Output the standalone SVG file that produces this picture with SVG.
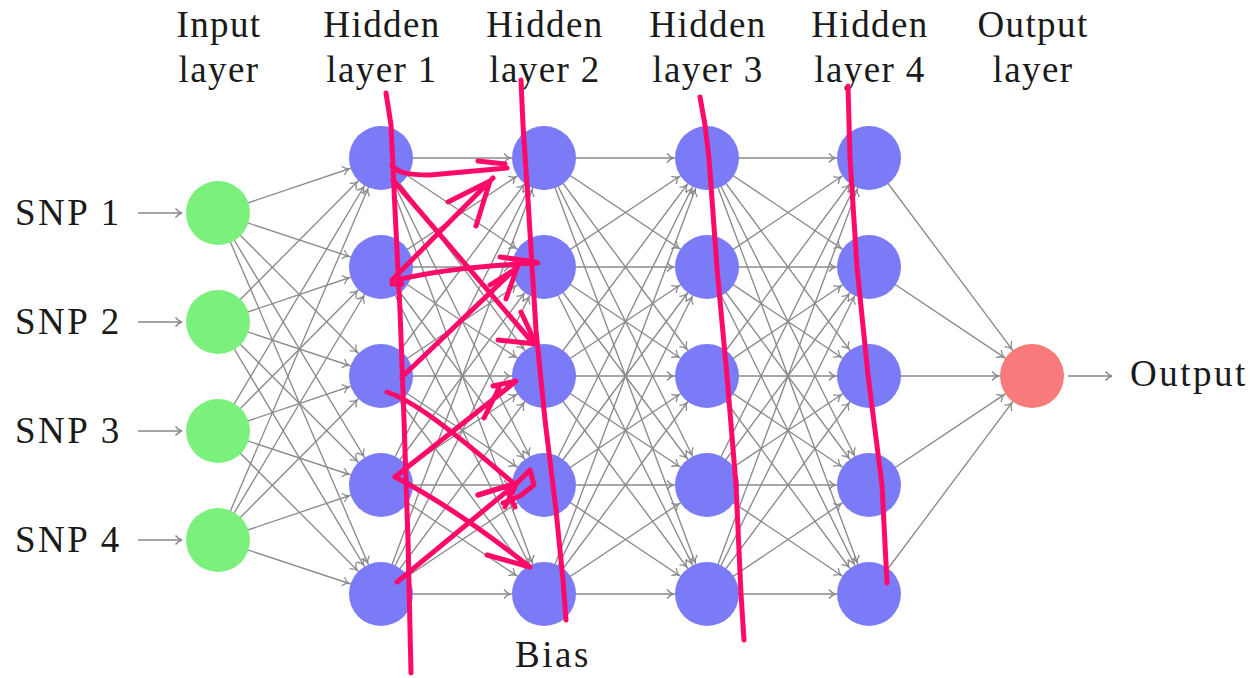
<svg xmlns="http://www.w3.org/2000/svg" width="1258" height="678" viewBox="0 0 1258 678">
<style>
.t{font-family:"Liberation Serif","Times New Roman",serif;font-size:37px;fill:#1a1a1a}
.hd{letter-spacing:1.4px}
.lb{letter-spacing:2.5px}
.c{text-anchor:middle}
.e{stroke:#8a8a8a;stroke-width:1.35;fill:none;marker-end:url(#ah)}
.s{stroke:#8a868a;stroke-width:1.4;fill:none;marker-end:url(#ah0)}
.g{fill:#7cf07c}
.b{fill:#7b7bf7}
.r{fill:#f87a7a}
.p{stroke:#ff0a68;stroke-width:5;fill:none;stroke-linecap:round;stroke-linejoin:round}
</style>
<defs>
<marker id="ah" markerUnits="userSpaceOnUse" orient="auto" overflow="visible" markerWidth="1" markerHeight="1" refX="0" refY="0">
<path d="M-40,-4.5 C-38,-2 -36,-0.5 -33.5,0 C-36,0.5 -38,2 -40,4.5" stroke="#8a8a8a" stroke-width="1.3" fill="none"/>
</marker>
<marker id="ah0" markerUnits="userSpaceOnUse" orient="auto" overflow="visible" markerWidth="1" markerHeight="1" refX="0" refY="0">
<path d="M-6.5,-4.5 C-4.5,-2 -2.5,-0.5 0,0 C-2.5,0.5 -4.5,2 -6.5,4.5" stroke="#8a868a" stroke-width="1.4" fill="none"/>
</marker>
</defs>
<rect width="1258" height="678" fill="#ffffff"/>
<g id="headers" class="t c hd">
<text x="219" y="37">Input</text><text x="219" y="82">layer</text>
<text x="382" y="37">Hidden</text><text x="382" y="82">layer 1</text>
<text x="545" y="37">Hidden</text><text x="545" y="82">layer 2</text>
<text x="708" y="37">Hidden</text><text x="708" y="82">layer 3</text>
<text x="870" y="37">Hidden</text><text x="870" y="82">layer 4</text>
<text x="1033" y="37">Output</text><text x="1033" y="82">layer</text>
</g>
<g id="connectors">
<line class="s" x1="138" y1="213" x2="182" y2="213"/>
<line class="s" x1="138" y1="322" x2="182" y2="322"/>
<line class="s" x1="138" y1="431" x2="182" y2="431"/>
<line class="s" x1="138" y1="540" x2="182" y2="540"/>
<line class="s" x1="1068" y1="376" x2="1112" y2="376"/>
<line class="e" x1="218" y1="213" x2="381" y2="158"/><line class="e" x1="218" y1="213" x2="381" y2="267"/><line class="e" x1="218" y1="213" x2="381" y2="376"/><line class="e" x1="218" y1="213" x2="381" y2="485"/><line class="e" x1="218" y1="213" x2="381" y2="594"/>
<line class="e" x1="218" y1="322" x2="381" y2="158"/><line class="e" x1="218" y1="322" x2="381" y2="267"/><line class="e" x1="218" y1="322" x2="381" y2="376"/><line class="e" x1="218" y1="322" x2="381" y2="485"/><line class="e" x1="218" y1="322" x2="381" y2="594"/>
<line class="e" x1="218" y1="431" x2="381" y2="158"/><line class="e" x1="218" y1="431" x2="381" y2="267"/><line class="e" x1="218" y1="431" x2="381" y2="376"/><line class="e" x1="218" y1="431" x2="381" y2="485"/><line class="e" x1="218" y1="431" x2="381" y2="594"/>
<line class="e" x1="218" y1="540" x2="381" y2="158"/><line class="e" x1="218" y1="540" x2="381" y2="267"/><line class="e" x1="218" y1="540" x2="381" y2="376"/><line class="e" x1="218" y1="540" x2="381" y2="485"/><line class="e" x1="218" y1="540" x2="381" y2="594"/>
<line class="e" x1="381" y1="158" x2="544" y2="158"/><line class="e" x1="381" y1="158" x2="544" y2="267"/><line class="e" x1="381" y1="158" x2="544" y2="376"/><line class="e" x1="381" y1="158" x2="544" y2="485"/><line class="e" x1="381" y1="158" x2="544" y2="594"/>
<line class="e" x1="381" y1="267" x2="544" y2="158"/><line class="e" x1="381" y1="267" x2="544" y2="267"/><line class="e" x1="381" y1="267" x2="544" y2="376"/><line class="e" x1="381" y1="267" x2="544" y2="485"/><line class="e" x1="381" y1="267" x2="544" y2="594"/>
<line class="e" x1="381" y1="376" x2="544" y2="158"/><line class="e" x1="381" y1="376" x2="544" y2="267"/><line class="e" x1="381" y1="376" x2="544" y2="376"/><line class="e" x1="381" y1="376" x2="544" y2="485"/><line class="e" x1="381" y1="376" x2="544" y2="594"/>
<line class="e" x1="381" y1="485" x2="544" y2="158"/><line class="e" x1="381" y1="485" x2="544" y2="267"/><line class="e" x1="381" y1="485" x2="544" y2="376"/><line class="e" x1="381" y1="485" x2="544" y2="485"/><line class="e" x1="381" y1="485" x2="544" y2="594"/>
<line class="e" x1="381" y1="594" x2="544" y2="158"/><line class="e" x1="381" y1="594" x2="544" y2="267"/><line class="e" x1="381" y1="594" x2="544" y2="376"/><line class="e" x1="381" y1="594" x2="544" y2="485"/><line class="e" x1="381" y1="594" x2="544" y2="594"/>
<line class="e" x1="544" y1="158" x2="707" y2="158"/><line class="e" x1="544" y1="158" x2="707" y2="267"/><line class="e" x1="544" y1="158" x2="707" y2="376"/><line class="e" x1="544" y1="158" x2="707" y2="485"/><line class="e" x1="544" y1="158" x2="707" y2="594"/>
<line class="e" x1="544" y1="267" x2="707" y2="158"/><line class="e" x1="544" y1="267" x2="707" y2="267"/><line class="e" x1="544" y1="267" x2="707" y2="376"/><line class="e" x1="544" y1="267" x2="707" y2="485"/><line class="e" x1="544" y1="267" x2="707" y2="594"/>
<line class="e" x1="544" y1="376" x2="707" y2="158"/><line class="e" x1="544" y1="376" x2="707" y2="267"/><line class="e" x1="544" y1="376" x2="707" y2="376"/><line class="e" x1="544" y1="376" x2="707" y2="485"/><line class="e" x1="544" y1="376" x2="707" y2="594"/>
<line class="e" x1="544" y1="485" x2="707" y2="158"/><line class="e" x1="544" y1="485" x2="707" y2="267"/><line class="e" x1="544" y1="485" x2="707" y2="376"/><line class="e" x1="544" y1="485" x2="707" y2="485"/><line class="e" x1="544" y1="485" x2="707" y2="594"/>
<line class="e" x1="544" y1="594" x2="707" y2="158"/><line class="e" x1="544" y1="594" x2="707" y2="267"/><line class="e" x1="544" y1="594" x2="707" y2="376"/><line class="e" x1="544" y1="594" x2="707" y2="485"/><line class="e" x1="544" y1="594" x2="707" y2="594"/>
<line class="e" x1="707" y1="158" x2="869" y2="158"/><line class="e" x1="707" y1="158" x2="869" y2="267"/><line class="e" x1="707" y1="158" x2="869" y2="376"/><line class="e" x1="707" y1="158" x2="869" y2="485"/><line class="e" x1="707" y1="158" x2="869" y2="594"/>
<line class="e" x1="707" y1="267" x2="869" y2="158"/><line class="e" x1="707" y1="267" x2="869" y2="267"/><line class="e" x1="707" y1="267" x2="869" y2="376"/><line class="e" x1="707" y1="267" x2="869" y2="485"/><line class="e" x1="707" y1="267" x2="869" y2="594"/>
<line class="e" x1="707" y1="376" x2="869" y2="158"/><line class="e" x1="707" y1="376" x2="869" y2="267"/><line class="e" x1="707" y1="376" x2="869" y2="376"/><line class="e" x1="707" y1="376" x2="869" y2="485"/><line class="e" x1="707" y1="376" x2="869" y2="594"/>
<line class="e" x1="707" y1="485" x2="869" y2="158"/><line class="e" x1="707" y1="485" x2="869" y2="267"/><line class="e" x1="707" y1="485" x2="869" y2="376"/><line class="e" x1="707" y1="485" x2="869" y2="485"/><line class="e" x1="707" y1="485" x2="869" y2="594"/>
<line class="e" x1="707" y1="594" x2="869" y2="158"/><line class="e" x1="707" y1="594" x2="869" y2="267"/><line class="e" x1="707" y1="594" x2="869" y2="376"/><line class="e" x1="707" y1="594" x2="869" y2="485"/><line class="e" x1="707" y1="594" x2="869" y2="594"/>
<line class="e" x1="869" y1="158" x2="1032" y2="376"/><line class="e" x1="869" y1="267" x2="1032" y2="376"/><line class="e" x1="869" y1="376" x2="1032" y2="376"/><line class="e" x1="869" y1="485" x2="1032" y2="376"/><line class="e" x1="869" y1="594" x2="1032" y2="376"/>
</g>
<g id="labels" class="t">
<text x="15" y="225" class="lb">SNP 1</text>
<text x="15" y="334" class="lb">SNP 2</text>
<text x="15" y="443" class="lb">SNP 3</text>
<text x="15" y="552" class="lb">SNP 4</text>
<text x="1130" y="386" class="lb">Output</text>
<text x="553" y="667" class="c lb">Bias</text>
</g>
<g id="in1"><circle class="g" cx="218" cy="213" r="32"/></g>
<g id="in2"><circle class="g" cx="218" cy="322" r="32"/></g>
<g id="in3"><circle class="g" cx="218" cy="431" r="32"/></g>
<g id="in4"><circle class="g" cx="218" cy="540" r="32"/></g>
<g id="h1n1"><circle class="b" cx="381" cy="158" r="32"/></g>
<g id="h1n2"><circle class="b" cx="381" cy="267" r="32"/></g>
<g id="h1n3"><circle class="b" cx="381" cy="376" r="32"/></g>
<g id="h1n4"><circle class="b" cx="381" cy="485" r="32"/></g>
<g id="h1n5"><circle class="b" cx="381" cy="594" r="32"/></g>
<g id="h2n1"><circle class="b" cx="544" cy="158" r="32"/></g>
<g id="h2n2"><circle class="b" cx="544" cy="267" r="32"/></g>
<g id="h2n3"><circle class="b" cx="544" cy="376" r="32"/></g>
<g id="h2n4"><circle class="b" cx="544" cy="485" r="32"/></g>
<g id="h2n5"><circle class="b" cx="544" cy="594" r="32"/></g>
<g id="h3n1"><circle class="b" cx="707" cy="158" r="32"/></g>
<g id="h3n2"><circle class="b" cx="707" cy="267" r="32"/></g>
<g id="h3n3"><circle class="b" cx="707" cy="376" r="32"/></g>
<g id="h3n4"><circle class="b" cx="707" cy="485" r="32"/></g>
<g id="h3n5"><circle class="b" cx="707" cy="594" r="32"/></g>
<g id="h4n1"><circle class="b" cx="869" cy="158" r="32"/></g>
<g id="h4n2"><circle class="b" cx="869" cy="267" r="32"/></g>
<g id="h4n3"><circle class="b" cx="869" cy="376" r="32"/></g>
<g id="h4n4"><circle class="b" cx="869" cy="485" r="32"/></g>
<g id="h4n5"><circle class="b" cx="869" cy="594" r="32"/></g>
<g id="out"><circle class="r" cx="1032" cy="376" r="32"/></g>
<g id="annotations" class="p">
<path d="M386,93 L391,125 L395,210 L400,310 L404,420 L408,540 L411,673"/>
<path d="M521,80 L523,125 L528,200 L536,330 L545,420 L556,510 L563,580 L566,620"/>
<path d="M700,97 L705,125 L709,158 L717,268 L727,376 L736,485 L741,594 L744,640"/>
<path d="M848,86 L850,158 L857,267 L868,375 L882,485 L887,583"/>
<path d="M392,165 C397,172 405,175 430,175 L507,168 M478,161 L505,164"/>
<path d="M392,280 L493,178 M448,202 L490,181 L476,226"/>
<path d="M393,180 L533,343 M498,340 L536,344 L521,312"/>
<path d="M392,284 L402,284 M397,280 C430,272 470,266 538,263 M500,257 L536,262"/>
<path d="M402,377 L517,267 M490,285 L517,268 L506,299"/>
<path d="M387,392 C410,400 440,420 512,482 M478,495 L517,483 L530,470 L534,485 L520,496 L503,503 M508,492 L515,507"/>
<path d="M395,477 L515,382 M484,418 L499,388 M493,386 L516,381"/>
<path d="M395,477 C430,495 470,520 530,567 M487,555 L530,567"/>
<path d="M397,582 L517,483 M478,495 L517,483 M505,507 L515,487"/>
</g>
</svg>
